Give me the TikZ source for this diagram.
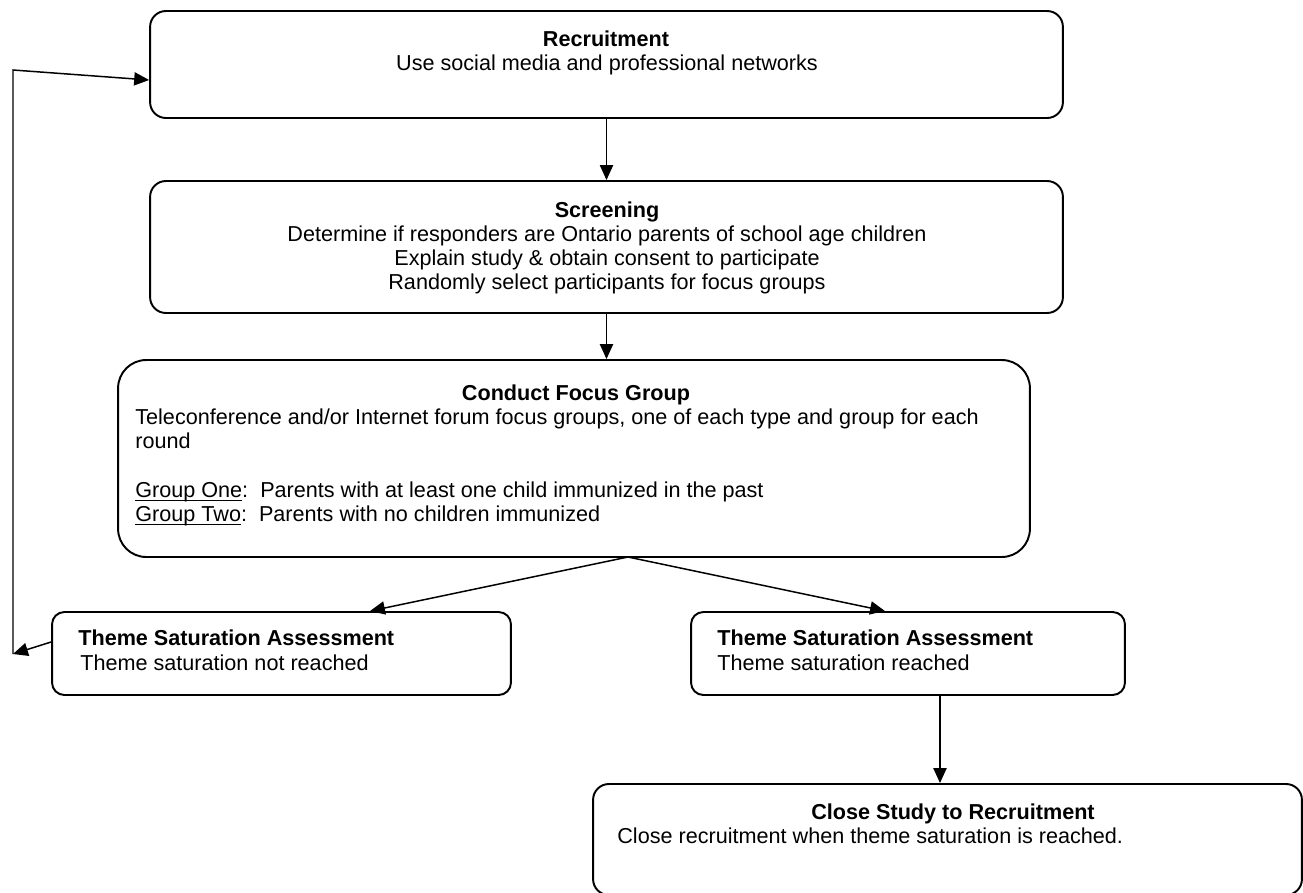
\documentclass[tikz,border=0pt]{standalone}
\usepackage{fontspec}
\setmainfont{Liberation Sans}
\usetikzlibrary{arrows.meta}

% underline close to the baseline
\newcommand{\grpul}[1]{\setbox0\hbox{#1}\rlap{\rule[-2.2pt]{\wd0}{0.7pt}}\box0}

\tikzset{
  stage/.style={draw, line width=1.1pt, inner sep=0pt, rounded corners=9pt},
  flow/.style={line width=0.85pt, -{Triangle[length=8.5pt,width=7.5pt]}},
  textline/.style={inner sep=0pt, anchor=base, font=\fontsize{12.3}{14}\selectfont},
  textlineW/.style={textline, anchor=base west},
}

\begin{document}
\begin{tikzpicture}[x=0.02cm, y=-0.02cm]
  \useasboundingbox (0,0) rectangle (1303,893);
  % Boxes
  \node[stage, minimum width=18.26cm, minimum height=2.14cm] (rec) at (606.5,64.5) {};
  \node[stage, minimum width=18.26cm, minimum height=2.64cm] (scr) at (606.5,247) {};
  \node[stage, rounded corners=16pt, minimum width=18.24cm, minimum height=3.94cm] (foc) at (574,458.5) {};
  \node[stage, rounded corners=7pt, minimum width=9.18cm, minimum height=1.66cm] (tsaL) at (281.5,653.5) {};
  \node[stage, rounded corners=7pt, minimum width=8.68cm, minimum height=1.66cm] (tsaR) at (908,653.5) {};
  \node[stage, minimum width=14.18cm, minimum height=2.22cm] (close) at (947.5,839.5) {};
  % Recruitment
  \node[textline] (rec-title) at (606,46) {\bfseries Recruitment};
  \node[textline] (rec-body) at (607,70) {Use social media and professional networks};
  % Screening
  \node[textline] (scr-title) at (607,217) {\bfseries Screening};
  \foreach \t [count=\i] in {Determine if responders are Ontario parents of school age children,
      Explain study \& obtain consent to participate,
      Randomly select participants for focus groups}
    \node[textline] (scr-\i) at (607,{217+24.3*\i}) {\t};
  % Focus group
  \node[textline] (foc-title) at (576,400) {\bfseries Conduct Focus Group};
  \node[textlineW] (foc-1) at (135,424) {Teleconference and/or Internet forum focus groups, one of each type and group for each};
  \node[textlineW] (foc-2) at (135,448) {round};
  \node[textlineW] (foc-3) at (135,497) {\grpul{Group One}:\ \ Parents with at least one child immunized in the past};
  \node[textlineW] (foc-4) at (135,521) {\grpul{Group Two}:\ \ Parents with no children immunized};
  % Theme saturation
  \node[textlineW] (tsaL-title) at (78,645) {\bfseries Theme Saturation Assessment};
  \node[textlineW] (tsaL-body) at (80,670) {Theme saturation not reached};
  \node[textlineW] (tsaR-title) at (717,645) {\bfseries Theme Saturation Assessment};
  \node[textlineW] (tsaR-body) at (717,670) {Theme saturation reached};
  % Close study
  \node[textline] (close-title) at (953,819) {\bfseries Close Study to Recruitment};
  \node[textlineW] (close-body) at (617,843) {Close recruitment when theme saturation is reached.};
  % Connectors
  \draw[flow] (rec) -- (scr);
  \draw[flow] (scr.south) -- (scr.south |- foc.north);
  \coordinate (split) at (628,557);
  \draw[flow] (split) -- ([xshift=1.77cm]tsaL.north);
  \draw[flow] (split) -- ([xshift=-0.46cm]tsaR.north);
  \coordinate (tsaR-out) at ([xshift=0.64cm]tsaR.south);
  \draw[flow] (tsaR-out) -- (tsaR-out |- close.north);
  % loop back to recruitment
  \coordinate (loop-bot) at (13,654);
  \coordinate (loop-top) at (13,70);
  \draw[flow] ([yshift=0.23cm]tsaL.west) -- (loop-bot);
  \draw[flow] (loop-bot) -- (loop-top) -- ([yshift=-0.31cm]rec.west);
\end{tikzpicture}
\end{document}
